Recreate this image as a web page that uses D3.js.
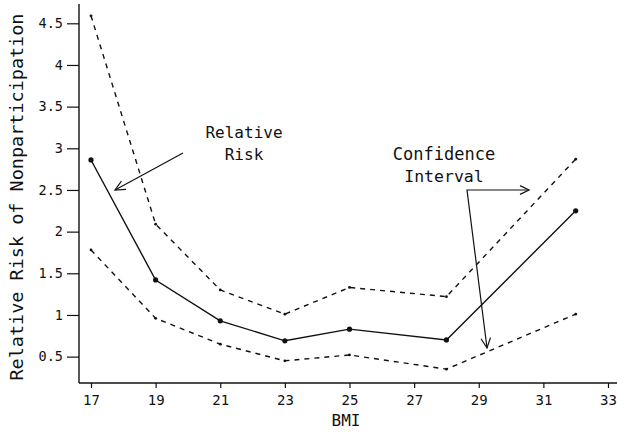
<!DOCTYPE html>
<html>
<head>
<meta charset="utf-8">
<script src="https://cdn.jsdelivr.net/npm/d3@7"></script>
<style>
  body { margin: 0; background: #fff; }
  svg { display: block; }
  text { font-family: "DejaVu Sans Mono", "Liberation Mono", monospace; fill: #111; }
</style>
</head>
<body>
<div id="chart"></div>
<script>
// BMI groups and relative risk of nonparticipation
const bmi = [17, 19, 21, 23, 25, 28, 32];
const relRisk = [2.86, 1.42, 0.93, 0.69, 0.83, 0.70, 2.25];
const upperCI = [4.59, 2.09, 1.30, 1.01, 1.33, 1.22, 2.87];
const lowerCI = [1.78, 0.96, 0.65, 0.45, 0.52, 0.35, 1.01];
const xTicks = [17, 19, 21, 23, 25, 27, 29, 31, 33];
const yTicks = [0.5, 1, 1.5, 2, 2.5, 3, 3.5, 4, 4.5];

const width = 617;
const height = 433;

const svg = d3.select("#chart")
    .append("svg")
    .attr("width", width)
    .attr("height", height);

const x = d3.scaleLinear()
    .domain([17, 33])
    .range([91, 608]);

const y = d3.scaleLinear()
    .domain([0, 4.5])
    .range([398.3, 23.3]);

const axisLeftX = 79;
const axisBottomY = 383;

// axes lines drawn by hand so they run past the tick range like the original
svg.append("line")
    .attr("x1", axisLeftX).attr("x2", axisLeftX)
    .attr("y1", 4).attr("y2", axisBottomY)
    .attr("stroke", "#111").attr("stroke-width", 1.4);
svg.append("line")
    .attr("x1", axisLeftX).attr("x2", width)
    .attr("y1", axisBottomY).attr("y2", axisBottomY)
    .attr("stroke", "#111").attr("stroke-width", 1.4);

const xAxis = d3.axisBottom(x)
    .tickValues(xTicks)
    .tickSize(5)
    .tickPadding(7)
    .tickFormat(d3.format("d"));
const gx = svg.append("g")
    .attr("transform", `translate(0, ${axisBottomY})`)
    .call(xAxis);
gx.select(".domain").remove();
gx.selectAll("line").attr("stroke", "#111").attr("stroke-width", 1.2);
gx.selectAll("text")
    .attr("font-size", 14)
    .style("font-family", "DejaVu Sans Mono");

const yAxis = d3.axisLeft(y)
    .tickValues(yTicks)
    .tickSize(12)
    .tickPadding(4)
    .tickFormat(d => d);
const gy = svg.append("g")
    .attr("transform", `translate(${axisLeftX}, 0)`)
    .call(yAxis);
gy.select(".domain").remove();
gy.selectAll("line").attr("stroke", "#111").attr("stroke-width", 1.2);
gy.selectAll("text")
    .attr("font-size", 13.5)
    .style("font-family", "DejaVu Sans Mono");

// axis titles
svg.append("text")
    .attr("transform", `translate(23, 197) rotate(-90)`)
    .attr("text-anchor", "middle")
    .attr("font-size", 17)
    .attr("textLength", 367)
    .attr("lengthAdjust", "spacingAndGlyphs")
    .text("Relative Risk of Nonparticipation");

svg.append("text")
    .attr("x", 346)
    .attr("y", 426)
    .attr("text-anchor", "middle")
    .attr("font-size", 16)
    .text("BMI");

// series
const line = d3.line()
    .x(d => x(d[0]))
    .y(d => y(d[1]));

const series = [
    { name: "upper", values: upperCI, dash: "5,5", r: 1.4 },
    { name: "lower", values: lowerCI, dash: "5,5", r: 1.4 },
    { name: "rr", values: relRisk, dash: null, r: 2.6 }
];

series.forEach(s => {
    const pts = bmi.map((b, i) => [b, s.values[i]]);
    svg.append("path")
        .datum(pts)
        .attr("d", line)
        .attr("fill", "none")
        .attr("stroke", "#111")
        .attr("stroke-width", 1.4)
        .attr("stroke-dasharray", s.dash);
    svg.selectAll(".pt-" + s.name)
        .data(pts)
        .enter()
        .append("circle")
        .attr("class", "pt-" + s.name)
        .attr("cx", d => x(d[0]))
        .attr("cy", d => y(d[1]))
        .attr("r", s.r)
        .attr("fill", "#111");
});

// annotations
function arrowHead(x1, y1, x2, y2, len) {
    const a = Math.atan2(y2 - y1, x2 - x1);
    const spread = 0.45;
    const p1 = [x2 - len * Math.cos(a - spread), y2 - len * Math.sin(a - spread)];
    const p2 = [x2 - len * Math.cos(a + spread), y2 - len * Math.sin(a + spread)];
    return `M${p1[0]},${p1[1]}L${x2},${y2}L${p2[0]},${p2[1]}`;
}

const ann = svg.append("g").attr("class", "annotations");

ann.append("text")
    .attr("x", 244).attr("y", 138)
    .attr("text-anchor", "middle")
    .attr("font-size", 16)
    .text("Relative");
ann.append("text")
    .attr("x", 244).attr("y", 160)
    .attr("text-anchor", "middle")
    .attr("font-size", 16)
    .text("Risk");

ann.append("line")
    .attr("x1", 183).attr("y1", 153)
    .attr("x2", 115).attr("y2", 190)
    .attr("stroke", "#111").attr("stroke-width", 1.2);
ann.append("path")
    .attr("d", arrowHead(183, 153, 115, 190, 11))
    .attr("fill", "none").attr("stroke", "#111").attr("stroke-width", 1.2);

ann.append("text")
    .attr("x", 444).attr("y", 160)
    .attr("text-anchor", "middle")
    .attr("font-size", 17)
    .text("Confidence");
ann.append("text")
    .attr("x", 444).attr("y", 182)
    .attr("text-anchor", "middle")
    .attr("font-size", 16.5)
    .text("Interval");

ann.append("path")
    .attr("d", "M529,190L467,190L487,348")
    .attr("fill", "none").attr("stroke", "#111").attr("stroke-width", 1.2);
ann.append("path")
    .attr("d", arrowHead(467, 190, 529, 190, 10))
    .attr("fill", "none").attr("stroke", "#111").attr("stroke-width", 1.2);
ann.append("path")
    .attr("d", arrowHead(467, 190, 487, 348, 11))
    .attr("fill", "none").attr("stroke", "#111").attr("stroke-width", 1.2);
</script>
</body>
</html>
